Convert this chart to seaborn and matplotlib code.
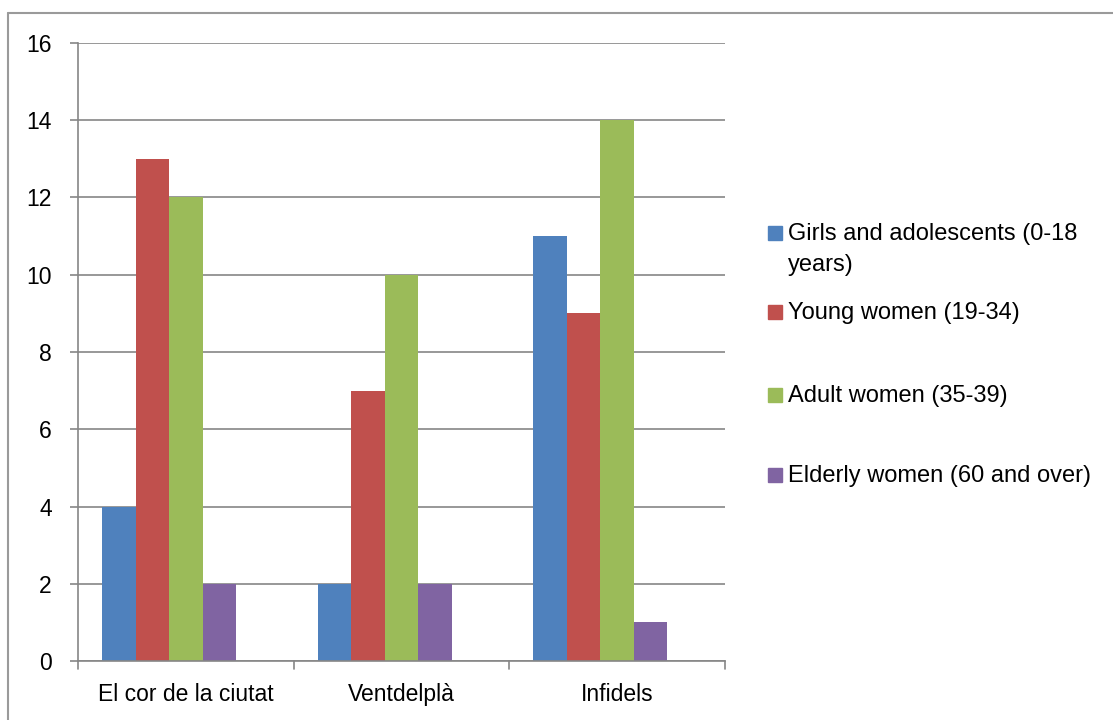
import matplotlib
matplotlib.use("Agg")
import matplotlib.pyplot as plt
from matplotlib.patches import Rectangle
from matplotlib.lines import Line2D
import seaborn as sns
import pandas as pd

# ----------------------------
# DATA
# ----------------------------
series_names = ["Girls and adolescents (0-18 years)", "Young women (19-34)",
                "Adult women (35-39)", "Elderly women (60 and over)"]
legend_labels = ["Girls and adolescents (0-18\nyears)", "Young women (19-34)",
                 "Adult women (35-39)", "Elderly women (60 and over)"]
shows = ["El cor de la ciutat", "Ventdelplà", "Infidels"]
girls = [4, 2, 11]
young = [13, 7, 9]
adult = [12, 10, 14]
elderly = [2, 2, 1]
colors = ["#4F81BD", "#C0504D", "#9BBB59", "#8064A2"]

rows = []
for name, vals in zip(series_names, [girls, young, adult, elderly]):
    for show, v in zip(shows, vals):
        rows.append({"show": show, "group": name, "count": v})
df = pd.DataFrame(rows)

# ----------------------------
# PLOT
# ----------------------------
sns.set_style("white")
plt.rcParams["font.family"] = ["Liberation Sans", "DejaVu Sans"]
plt.rcParams["text.color"] = "black"
grid_c = "#868686"

fig = plt.figure(figsize=(11.13, 7.2), dpi=100)
ax = fig.add_axes([0.0701, 0.0819, 0.5813, 0.8584])

# Excel leaves an empty fifth slot in each group
hue_order = series_names + ["_empty"]
palette = dict(zip(hue_order, colors + ["white"]))
sns.barplot(data=df, x="show", y="count", hue="group", hue_order=hue_order,
            palette=palette, width=0.777, saturation=1, edgecolor="none",
            linewidth=0, legend=False, ax=ax)

ax.set_xlim(-0.5, 2.5)
ax.set_ylim(0, 16)
ax.set_yticks(range(0, 17, 2))
ax.set_xlabel("")
ax.set_ylabel("")
ax.yaxis.grid(True, color=grid_c, linewidth=1.2)
ax.set_axisbelow(True)
for s in ["top", "right"]:
    ax.spines[s].set_visible(False)
for s in ["left", "bottom"]:
    ax.spines[s].set_color(grid_c)
    ax.spines[s].set_linewidth(1.2)

ax.tick_params(axis="y", left=True, length=5.8, width=1.2, color=grid_c,
               labelsize=16.5, labelcolor="black", pad=13)
ax.tick_params(axis="x", bottom=False, labelsize=16.5, labelcolor="black", pad=12)
# category separator ticks
for xb in [-0.5, 0.5, 1.5, 2.5]:
    ax.plot([xb, xb], [0, -8 / 618], transform=ax.get_xaxis_transform(),
            color=grid_c, linewidth=1.2, clip_on=False)

# legend drawn by hand, Excel style
W, H = 1113, 720
ys = [233, 312, 395, 475]
for lab, c, y in zip(legend_labels, colors, ys):
    fig.patches.append(Rectangle((768 / W, 1 - (y + 7) / H), 14 / W, 14 / H,
                                 transform=fig.transFigure, color=c))
    fig.text(788 / W, 1 - (y - 10) / H, lab, fontsize=17, va="top",
             ha="left", linespacing=1.5)

# outer chart border (top and left only visible)
fig.add_artist(Line2D([8 / W, 1], [1 - 13 / H, 1 - 13 / H],
                      transform=fig.transFigure, color="#9a9a9a", linewidth=1.5))
fig.add_artist(Line2D([8 / W, 8 / W], [0, 1 - 13 / H],
                      transform=fig.transFigure, color="#9a9a9a", linewidth=1.5))

fig.savefig("out.png", dpi=100)
